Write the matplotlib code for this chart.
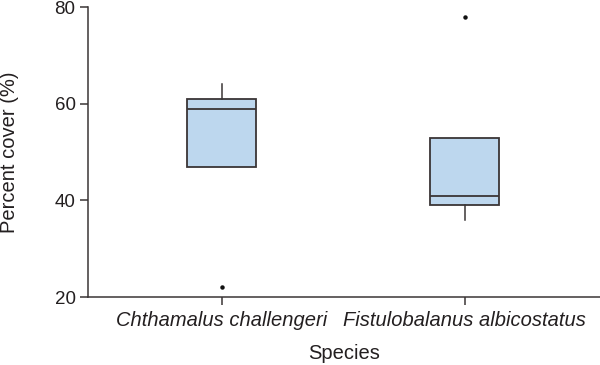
import matplotlib
matplotlib.use("Agg")
import matplotlib.pyplot as plt

plt.rcParams['font.family'] = ['Liberation Sans', 'DejaVu Sans']

species = ["Chthamalus challengeri", "Fistulobalanus albicostatus"]
q1 = [47, 39]
medians = [59, 41]
q3 = [61, 53]
whislo = [47, 36]
whishi = [64, 53]
fliers = [[22], [78]]
yticks = [20, 40, 60, 80]

edge = "#3a3536"
txt = "#231f20"
fig = plt.figure(figsize=(6, 3.65), dpi=100)
ax = fig.add_axes([0.1467, 0.1863, 0.8533, 0.7945])

stats = []
for i, name in enumerate(species):
    stats.append(dict(label=name, med=medians[i], q1=q1[i], q3=q3[i],
                      whislo=whislo[i], whishi=whishi[i], fliers=fliers[i]))

ax.bxp(stats, positions=[1, 2], widths=0.284, patch_artist=True, showcaps=False,
       boxprops=dict(facecolor="#bdd7ee", edgecolor=edge, linewidth=1.3),
       medianprops=dict(color=edge, linewidth=1.3),
       whiskerprops=dict(color=edge, linewidth=1.1),
       flierprops=dict(marker='o', markersize=2.2, markerfacecolor='#111111',
                       markeredgecolor='#111111'))

ax.set_xlim(0.449, 2.556)
ax.set_ylim(20, 80)
ax.set_yticks(yticks)
ax.set_xticks([1, 2])
ax.set_xticklabels(species, fontstyle='italic', fontsize=14.5)
ax.tick_params(axis='y', labelsize=13.5, colors=edge, length=6, width=1.1, pad=3)
ax.tick_params(axis='x', labelsize=14.5, colors=edge, length=6, width=1.1, pad=4)
for lab in ax.get_xticklabels() + ax.get_yticklabels():
    lab.set_color(txt)
for s in ['top', 'right']:
    ax.spines[s].set_visible(False)
for s in ['left', 'bottom']:
    ax.spines[s].set_color(edge)
    ax.spines[s].set_linewidth(1.1)
ax.set_xlabel("Species", fontsize=14.5, color=txt)
ax.set_ylabel("Percent cover (%)", fontsize=14.5, color=txt)
ax.xaxis.set_label_coords(0.5, -0.162)
ax.yaxis.set_label_coords(-0.135, 0.5)

fig.savefig("out.png", dpi=100)
